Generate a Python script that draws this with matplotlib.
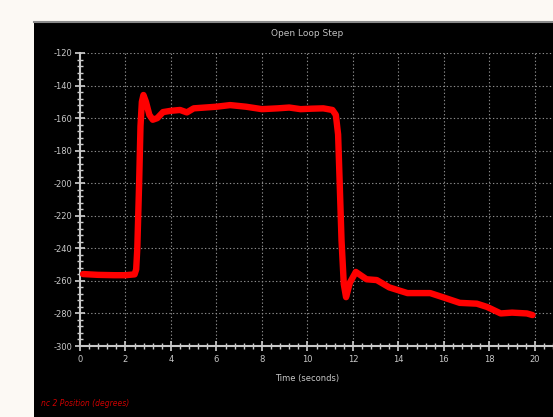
import matplotlib.pyplot as plt
import numpy as np
from matplotlib.patches import Rectangle
from matplotlib.lines import Line2D

plt.rcParams['axes.unicode_minus'] = False

# Open loop step response
time_s = [0.13, 0.8, 1.5, 2.0, 2.4, 2.47, 2.52, 2.6, 2.66, 2.72, 2.79, 2.9, 3.05, 3.2, 3.4,
          3.65, 4.0, 4.4, 4.7, 5.0, 5.5, 6.0, 6.6, 7.3, 8.0, 8.7, 9.2, 9.7, 10.2, 10.7,
          11.1, 11.25, 11.35, 11.42, 11.5, 11.6, 11.7, 11.87, 12.13, 12.6, 13.05,
          13.6, 14.4, 15.4, 15.95, 16.7, 17.45, 17.9, 18.5, 19.0, 19.65, 19.9]
position_deg = [-255.8, -256.3, -256.5, -256.5, -256.0, -253, -240, -200, -165, -150,
                -145.8, -150, -158, -161, -160, -156.3, -155.5, -155, -156.5, -154,
                -153.5, -153, -152, -153, -154.5, -154, -153.5, -154.5, -154.2, -154,
                -155, -158, -170, -200, -235, -262, -270, -261, -254.5, -259, -259.5,
                -264, -267.5, -267.5, -270, -273.5, -274, -276, -280, -279.5, -280, -281]

title = 'Open Loop Step'
xlabel = 'Time (seconds)'
ylabel_visible = 'nc 2 Position (degrees)'
xticks = np.arange(0, 21, 2)
yticks = np.arange(-300, -119, 20)

W, H = 553, 417
fig = plt.figure(figsize=(W / 100, H / 100), dpi=100, facecolor='#fcf9f4')

# black panel behind the chart
panel_left = 34 / W
panel_top = (H - 22) / H
fig.patches.append(Rectangle((panel_left, 0), 1 - panel_left, panel_top,
                             transform=fig.transFigure, facecolor='black',
                             edgecolor='none', zorder=-10))
fig.lines.append(Line2D([panel_left, 1], [panel_top, panel_top],
                        transform=fig.transFigure, color='#8a8a8a', lw=1.5,
                        zorder=-5))

ax_left = 80 / W
ax_bottom = (H - 346) / H
ax_top = (H - 53) / H
ax = fig.add_axes([ax_left, ax_bottom, 1 - ax_left, ax_top - ax_bottom])
ax.set_zorder(2)
ax.set_facecolor('black')

ax.plot(time_s, position_deg, color='#ff0000', lw=4.6,
        solid_capstyle='round', solid_joinstyle='round', zorder=5)

ax.set_xlim(0, 20.8)
ax.set_ylim(-300, -120)
ax.set_xticks(xticks)
ax.set_yticks(yticks)
ax.set_xticks(np.arange(0, 20.81, 0.4), minor=True)
ax.set_yticks(np.arange(-300, -119, 4), minor=True)
ax.grid(which='major', color='#8c8c8c', linestyle=(0, (1.2, 2.0)), lw=0.8)

for s in ['top', 'right']:
    ax.spines[s].set_visible(False)
for s in ['left', 'bottom']:
    ax.spines[s].set_color('#c8c8c8')
    ax.spines[s].set_linewidth(1.5)

ax.tick_params(which='major', direction='inout', length=7, width=1.2,
               color='#d0d0d0', labelcolor='#c8c8c8', labelsize=6, pad=2)
ax.tick_params(which='minor', direction='inout', length=5, width=1.0,
               color='#d0d0d0')
ax.tick_params(axis='x', which='major', pad=3)

fig.text((80 + 535) / 2 / W, (H - 33) / H, title, color='#c0c0c0',
         fontsize=6.5, ha='center', va='center', zorder=3)
fig.text((80 + 535) / 2 / W, (H - 379) / H, xlabel, color='#c8c8c8',
         fontsize=6, ha='center', va='center', zorder=3)
fig.text(41 / W, (H - 403) / H, ylabel_visible, color='#cc0000',
         fontsize=5.5, style='italic', ha='left', va='center', zorder=3)

fig.savefig('out.png', dpi=100, facecolor=fig.get_facecolor())
